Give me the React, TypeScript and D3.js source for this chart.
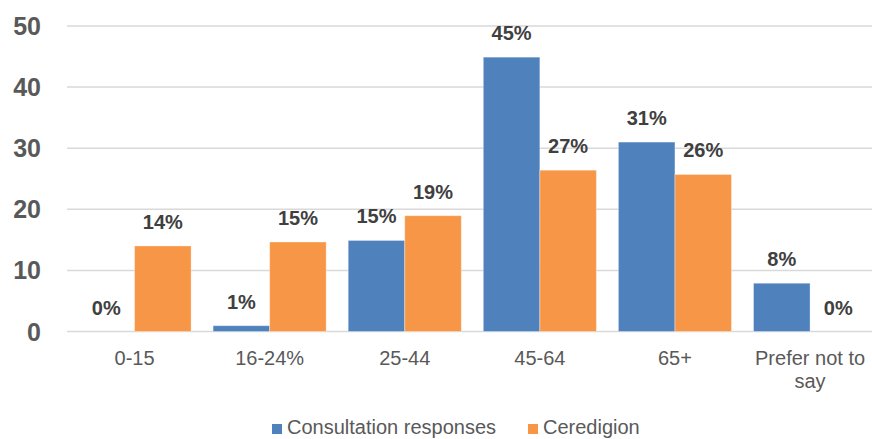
import React from "react";
import * as d3 from "d3";

const categories = ["0-15", "16-24%", "25-44", "45-64", "65+", "Prefer not to say"];
const consultation = [0, 0.95, 14.9, 44.9, 31.0, 7.9];
const ceredigion = [14.0, 14.65, 18.95, 26.4, 25.7, 0];
const consultationLabels = ["0%", "1%", "15%", "45%", "31%", "8%"];
const ceredigionLabels = ["14%", "15%", "19%", "27%", "26%", "0%"];
const yTicks = [0, 10, 20, 30, 40, 50];
const seriesNames = ["Consultation responses", "Ceredigion"];

const W = 872;
const H = 439;
const FONT = "'Liberation Sans', Arial, sans-serif";
const BLUE = "#4F81BD";
const ORANGE = "#F79646";

export default function App() {
  const left = 67;
  const right = 877.6;
  const y0 = 331.5;
  const yTop = 26;
  const x = d3.scaleBand<string>().domain(categories).range([left, right]).paddingInner(0.163).paddingOuter(0.0815);
  const xs = d3.scaleBand<string>().domain(["a", "b"]).range([0, x.bandwidth()]);
  const y = d3.scaleLinear().domain([0, 50]).range([y0, yTop]);
  const series = [
    { key: "a", values: consultation, labels: consultationLabels, color: BLUE },
    { key: "b", values: ceredigion, labels: ceredigionLabels, color: ORANGE },
  ];
  const splitLabel = (c: string) => (c === "Prefer not to say" ? ["Prefer not to", "say"] : [c]);

  return (
    <svg width={W} height={H} style={{ position: "absolute", left: 0, top: 0, background: "#fff" }} fontFamily={FONT}>
      {yTicks.map((t) => (
        <g key={t}>
          <line x1={left} x2={W} y1={y(t)} y2={y(t)} stroke="#d9d9d9" strokeWidth={1.5} />
          <text x={41} y={y(t)} dy="0.36em" textAnchor="end" fontSize={25} fontWeight="bold" fill="#595959">
            {t}
          </text>
        </g>
      ))}
      {series.map((s) =>
        categories.map((c, i) => {
          const bx = (x(c) as number) + (xs(s.key) as number);
          const bw = xs.bandwidth();
          const v = s.values[i];
          return (
            <g key={s.key + c}>
              {v > 0 && (
                <rect x={bx} y={y(v)} width={bw} height={y0 - y(v)} fill={s.color} stroke="#ffffff" strokeOpacity={0.35} strokeWidth={1} />
              )}
              <text x={bx + bw / 2} y={y(v) - 17} textAnchor="middle" fontSize={20} fontWeight="bold" fill="#404040">
                {s.labels[i]}
              </text>
            </g>
          );
        })
      )}
      {categories.map((c) => {
        const cx = (x(c) as number) + x.bandwidth() / 2;
        return splitLabel(c).map((line, j) => (
          <text key={c + j} x={cx} y={365 + j * 23} textAnchor="middle" fontSize={20} fill="#595959">
            {line}
          </text>
        ));
      })}
      {seriesNames.map((n, i) => {
        const lx = i === 0 ? 272 : 528;
        return (
          <g key={n}>
            <rect x={lx} y={424} width={10} height={10} fill={i === 0 ? BLUE : ORANGE} />
            <text x={lx + 15} y={434} fontSize={20} fill="#595959">
              {n}
            </text>
          </g>
        );
      })}
    </svg>
  );
}
